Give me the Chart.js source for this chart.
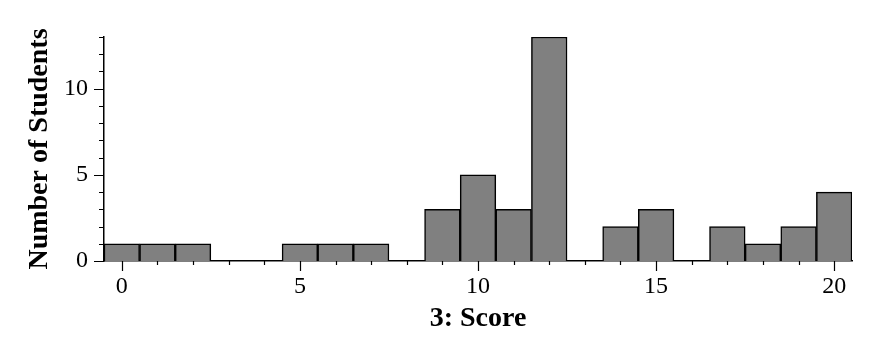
<!DOCTYPE html>
<html>
<head>
<meta charset="utf-8">
<script src="https://cdn.jsdelivr.net/npm/chart.js@4"></script>
<style>
  body { margin: 0; background: #fff; }
  #wrap { width: 871px; height: 343px; }
</style>
</head>
<body>
<div id="wrap"><canvas id="chartGrafico" width="871" height="343"></canvas></div>
<script>
// datos del histograma
var scores = ['0','1','2','3','4','5','6','7','8','9','10','11','12','13','14','15','16','17','18','19','20'];
var students = [1,1,1,0,0,1,1,1,0,3,5,3,13,0,2,3,0,2,1,2,4];
var yMax = 13;

var serif = "'Liberation Serif', 'Times New Roman', serif";

// marcas de eje (mayores cada 5, menores cada 1)
var tickMarks = {
    id: 'tickMarks',
    afterDraw: function(chart){
        let ctx = chart.ctx;
        let xs = chart.scales.x, ys = chart.scales.y;
        let area = chart.chartArea;
        ctx.save();
        ctx.strokeStyle = '#000';
        ctx.lineWidth = 1.2;
        ctx.beginPath();
        for (let i = 0; i < scores.length; i++) {
            let px = Math.round(xs.getPixelForValue(i)) + 0.5;
            let len = (i % 5 === 0) ? 10 : 4;
            ctx.moveTo(px, area.bottom);
            ctx.lineTo(px, area.bottom + len);
        }
        for (let v = 0; v <= yMax; v++) {
            let py = Math.round(ys.getPixelForValue(v)) + 0.5;
            let len = (v % 5 === 0) ? 10 : 5;
            ctx.moveTo(area.left, py);
            ctx.lineTo(area.left - len, py);
        }
        ctx.stroke();
        ctx.restore();
    }
};

let ctx = document.getElementById('chartGrafico');
let myChart = new Chart(ctx, {
    type: 'bar',
    data: {
        labels: scores,
        datasets: [{
            label: 'Number of Students',
            data: students,
            backgroundColor: 'rgb(128, 128, 128)',
            borderColor: '#000',
            borderWidth: 1.5,
            barPercentage: 1,
            categoryPercentage: 1
        }]
    },
    options: {
        responsive: false,
        animation: false,
        layout: { padding: { top: 37, right: 19, left: 0, bottom: 0 } },
        plugins: {
            legend: { display: false },
            tooltip: { enabled: false }
        },
        scales: {
            x: {
                grid: { display: false, drawTicks: false },
                border: { display: true, color: '#000', width: 1.5 },
                ticks: {
                    autoSkip: false,
                    maxRotation: 0,
                    padding: 11,
                    color: '#000',
                    font: { family: serif, size: 24 },
                    callback: function(value, index){
                        return (index % 5 === 0) ? scores[index] : '';
                    }
                },
                title: {
                    display: true,
                    text: '3: Score',
                    color: '#000',
                    font: { family: serif, size: 28, weight: 'bold' },
                    padding: { top: 0, bottom: 7 }
                },
                afterFit: function(scale){ scale.height = 82; }
            },
            y: {
                min: 0,
                max: yMax,
                grid: { display: false, drawTicks: false },
                border: { display: true, color: '#000', width: 1.5 },
                ticks: {
                    stepSize: 1,
                    autoSkip: false,
                    padding: 16,
                    color: '#000',
                    font: { family: serif, size: 24 },
                    callback: function(value){
                        return (value % 5 === 0) ? value : '';
                    }
                },
                title: {
                    display: true,
                    text: 'Number of Students',
                    color: '#000',
                    font: { family: serif, size: 28, weight: 'bold' },
                    padding: { top: 23, bottom: 0 }
                },
                afterFit: function(scale){ scale.width = 104; }
            }
        }
    },
    plugins: [tickMarks]
});
</script>
</body>
</html>
